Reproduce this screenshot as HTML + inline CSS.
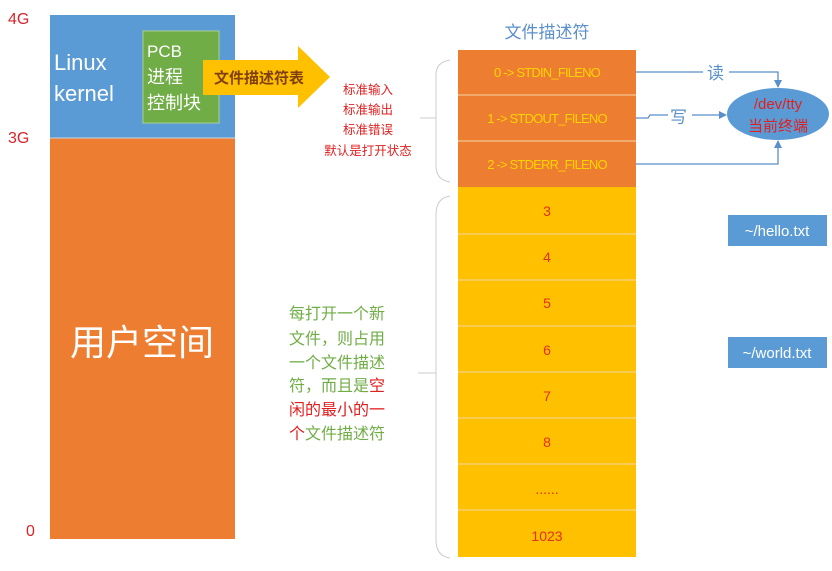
<!DOCTYPE html>
<html><head><meta charset="utf-8"><style>
body{margin:0;background:#fff}
svg text{font-family:"Liberation Sans","Noto Sans CJK SC",sans-serif}
</style></head><body>
<svg width="832" height="566" viewBox="0 0 832 566" xmlns="http://www.w3.org/2000/svg">
<defs><marker id="a" markerWidth="8" markerHeight="8" refX="7" refY="4" orient="auto" markerUnits="userSpaceOnUse"><path d="M0,0 L8,4 L0,8 z" fill="#5b8fc9"/></marker></defs>
<text x="8" y="24" font-size="16" fill="#d9232a">4G</text>
<text x="8" y="143" font-size="16" fill="#d9232a">3G</text>
<text x="26" y="536" font-size="16" fill="#d9232a">0</text>
<rect x="50" y="15" width="185" height="123" fill="#5b9bd5"/>
<rect x="50" y="138" width="185" height="401" fill="#ed7d31"/>
<line x1="50" y1="138" x2="235" y2="138" stroke="#c9d6e6" stroke-width="1"/>
<text x="54" y="70" font-size="22" fill="#fff">Linux</text>
<text x="54" y="101" font-size="22" fill="#fff">kernel</text>
<rect x="143" y="31" width="76" height="92" fill="#70ad47" stroke="#a9d08e"/>
<text x="147" y="57" font-size="17" fill="#fff">PCB</text>
<text x="147" y="83" font-size="18" fill="#fff">进程</text>
<text x="147" y="109" font-size="18" fill="#fff">控制块</text>
<path d="M203,60 L298,60 L298,46 L330,77 L298,108 L298,95 L203,95 z" fill="#ffc000"/>
<text x="214" y="83" font-size="15" fill="#7f3f0f" font-weight="bold">文件描述符表</text>
<text x="142" y="355" font-size="36" fill="#fff" text-anchor="middle">用户空间</text>
<g font-size="12.5" fill="#e02020" text-anchor="middle">
<text x="368" y="94">标准输入</text><text x="368" y="114">标准输出</text>
<text x="368" y="134">标准错误</text><text x="368" y="155">默认是打开状态</text></g>
<path d="M450,60 Q436,62 436,75 L436,166 Q436,180 450,182" fill="none" stroke="#ccc"/>
<line x1="420" y1="118" x2="436" y2="118" stroke="#ccc"/>
<path d="M450,196 Q436,198 436,215 L436,540 Q436,556 450,558" fill="none" stroke="#ccc"/>
<line x1="418" y1="373" x2="436" y2="373" stroke="#ccc"/>
<text x="547" y="38" font-size="17" fill="#5b8fc9" text-anchor="middle">文件描述符</text>
<rect x="458" y="50" width="178" height="137" fill="#ed7d31"/>
<rect x="458" y="187" width="178" height="370" fill="#ffc000"/>
<g stroke="#f2d9a6" stroke-width="1"><line x1="458" y1="95" x2="636" y2="95"/><line x1="458" y1="141" x2="636" y2="141"/>
<line x1="458" y1="234" x2="636" y2="234"/><line x1="458" y1="280" x2="636" y2="280"/><line x1="458" y1="326" x2="636" y2="326"/><line x1="458" y1="372" x2="636" y2="372"/><line x1="458" y1="418" x2="636" y2="418"/><line x1="458" y1="464" x2="636" y2="464"/><line x1="458" y1="510" x2="636" y2="510"/></g>
<g font-size="13" fill="#ffd400" text-anchor="middle" letter-spacing="-0.8">
<text x="547" y="77">0 -&gt; STDIN_FILENO</text><text x="547" y="123">1 -&gt; STDOUT_FILENO</text><text x="547" y="169">2 -&gt; STDERR_FILENO</text></g>
<g font-size="14" fill="#e0301e" text-anchor="middle">
<text x="547" y="216">3</text><text x="547" y="262">4</text><text x="547" y="308">5</text><text x="547" y="355">6</text><text x="547" y="401">7</text><text x="547" y="447">8</text><text x="547" y="494">......</text><text x="547" y="541">1023</text></g>
<g font-size="16" fill="#70ad47">
<text x="289" y="319">每打开一个新</text><text x="289" y="344">文件，则占用</text><text x="289" y="368">一个文件描述</text>
<text x="289" y="391">符，而且是<tspan fill="#e02020">空</tspan></text>
<text x="289" y="415" fill="#e02020">闲的最小的一</text>
<text x="289" y="439"><tspan fill="#e02020">个</tspan>文件描述符</text></g>
<g fill="none" stroke="#5b8fc9" stroke-width="1.3">
<path d="M636,72 L778,72 L778,87" marker-end="url(#a)"/>
<path d="M636,118 L648,118 L650,115 L726,115" marker-end="url(#a)"/>
<path d="M636,164 L778,164 L778,141" marker-end="url(#a)"/></g>
<rect x="703" y="62" width="26" height="20" fill="#fff"/>
<text x="707" y="79" font-size="17" fill="#5b8fc9">读</text>
<rect x="668" y="106" width="24" height="20" fill="#fff"/>
<text x="670" y="123" font-size="17" fill="#5b8fc9">写</text>
<ellipse cx="778" cy="114" rx="51" ry="26" fill="#5b9bd5"/>
<text x="778" y="109" font-size="15" fill="#e02020" text-anchor="middle">/dev/tty</text>
<text x="778" y="131" font-size="15" fill="#e02020" text-anchor="middle">当前终端</text>
<rect x="728" y="215" width="99" height="31" fill="#5b9bd5"/>
<text x="777" y="236" font-size="15" fill="#fff" text-anchor="middle">~/hello.txt</text>
<rect x="728" y="337" width="99" height="31" fill="#5b9bd5"/>
<text x="777" y="358" font-size="15" fill="#fff" text-anchor="middle">~/world.txt</text>
</svg>
</body></html>
